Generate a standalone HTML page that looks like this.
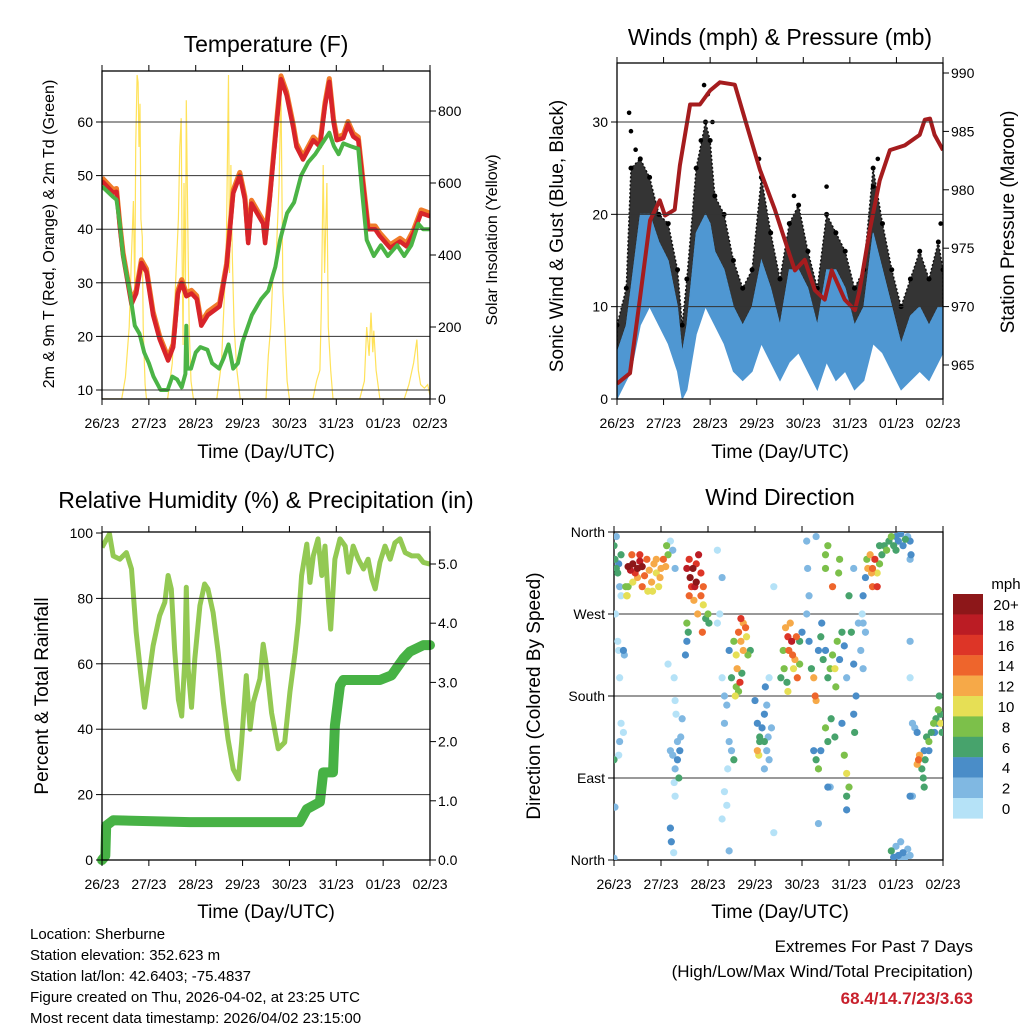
<!DOCTYPE html>
<html><head><meta charset="utf-8">
<style>
html,body{margin:0;padding:0;background:#fff;}
svg{display:block;font-family:"Liberation Sans",sans-serif;}
</style></head>
<body>
<svg id="s" width="1024" height="1024" viewBox="0 0 1024 1024" xmlns="http://www.w3.org/2000/svg">
<g id="bg"></g>
<text x="266" y="52" font-size="23" text-anchor="middle">Temperature (F)</text>
<text x="780" y="45" font-size="23" text-anchor="middle">Winds (mph) &amp; Pressure (mb)</text>
<text x="266" y="508" font-size="23" text-anchor="middle">Relative Humidity (%) &amp; Precipitation (in)</text>
<text x="780" y="505" font-size="23" text-anchor="middle">Wind Direction</text>
<text x="266" y="458" font-size="19" text-anchor="middle">Time (Day/UTC)</text>
<text x="780" y="458" font-size="19" text-anchor="middle">Time (Day/UTC)</text>
<text x="266" y="918" font-size="19" text-anchor="middle">Time (Day/UTC)</text>
<text x="780" y="918" font-size="19" text-anchor="middle">Time (Day/UTC)</text>
<text transform="translate(54,234) rotate(-90)" font-size="16" text-anchor="middle">2m &amp; 9m T (Red, Orange) &amp; 2m Td (Green)</text>
<text transform="translate(497,240) rotate(-90)" font-size="16" text-anchor="middle">Solar Insolation (Yellow)</text>
<text transform="translate(563,236) rotate(-90)" font-size="19" text-anchor="middle">Sonic Wind &amp; Gust (Blue, Black)</text>
<text transform="translate(1014,222) rotate(-90)" font-size="19" text-anchor="middle">Station Pressure (Maroon)</text>
<text transform="translate(48,696) rotate(-90)" font-size="19" text-anchor="middle">Percent &amp; Total Rainfall</text>
<text transform="translate(540,696) rotate(-90)" font-size="19" text-anchor="middle">Direction (Colored By Speed)</text>
<g font-size="15">
<text x="30" y="939">Location: Sherburne</text>
<text x="30" y="960">Station elevation: 352.623 m</text>
<text x="30" y="981">Station lat/lon: 42.6403; -75.4837</text>
<text x="30" y="1002">Figure created on Thu, 2026-04-02, at 23:25 UTC</text>
<text x="30" y="1023">Most recent data timestamp: 2026/04/02 23:15:00</text>
</g>
<g font-size="17" text-anchor="end">
<text x="973" y="952">Extremes For Past 7 Days</text>
<text x="973" y="977">(High/Low/Max Wind/Total Precipitation)</text>
<text x="973" y="1004" fill="#c8202c" font-weight="bold">68.4/14.7/23/3.63</text>
</g>
<g id="plots"></g>
</svg>
<script>
// ---------- DATA ----------
const dayLabels=["26/23","27/23","28/23","29/23","30/23","31/23","01/23","02/23"];
const tempT=[0,0.24,0.31,0.38,0.45,0.63,0.73,0.84,0.95,1.09,1.23,1.41,1.52,1.62,1.70,1.80,1.91,2.02,2.12,2.26,2.51,2.66,2.80,2.94,3.05,3.12,3.19,3.44,3.48,3.58,3.72,3.82,3.94,4.08,4.15,4.29,4.51,4.65,4.76,4.85,4.94,5.01,5.15,5.25,5.36,5.47,5.57,5.68,5.83,5.93,6.15,6.36,6.5,6.65,6.81,7.0];
const tempV=[49,46.8,47,40.5,35,26,28,33.7,32,24,19.5,15.5,18,28,30,27.5,28,27,22,24,25.6,33,46.7,50,45.5,37.4,44.8,41,37.4,45.5,59,68,65,59,55.4,53,56.6,55.4,63,67.5,60,56.6,57,59.5,57.3,56.6,48.5,40,40,38.7,36.5,37.7,36.8,39.3,43,42.4];
const dewT=[0,0.24,0.31,0.38,0.45,0.6,0.7,0.8,0.9,1.0,1.1,1.25,1.4,1.5,1.6,1.7,1.78,1.8,1.82,1.9,2.0,2.1,2.25,2.35,2.5,2.6,2.7,2.8,2.9,3.0,3.2,3.4,3.55,3.7,3.8,3.95,4.1,4.25,4.4,4.55,4.7,4.85,4.95,5.05,5.15,5.3,5.47,5.55,5.65,5.8,5.95,6.1,6.3,6.45,6.6,6.75,6.85,7.0];
const dewV=[48,46,45.5,41,35,28,22,20.5,17,15,12.5,10,10,12.5,12,10.5,13,22,14,14,17,18,17.5,15,14,16,18.5,14,15,19,24,27,28.5,33,38,43,45,50,52.5,54,56,58,55.5,54,56,55.5,55,47,38,35,37,35,37,35,37,41,40,40];
const solarT=[0,0.42,0.5,0.58,0.63,0.67,0.70,0.72,0.75,0.77,0.79,0.81,0.83,0.86,0.88,0.92,0.95,1.4,1.5,1.58,1.63,1.66,1.69,1.71,1.73,1.75,1.78,1.8,1.83,1.86,1.9,1.95,2.45,2.55,2.6,2.65,2.7,2.72,2.75,2.78,2.82,2.88,2.95,3.5,3.55,3.6,3.65,3.72,3.78,3.82,3.86,3.9,3.95,4.0,4.5,4.58,4.65,4.68,4.72,4.75,4.8,4.83,4.88,4.93,5.5,5.6,5.65,5.7,5.74,5.78,5.8,5.85,5.93,6.45,6.55,6.65,6.72,6.75,6.8,6.88,6.95,7.0];
const solarV=[0,0,60,200,400,550,300,700,900,880,700,820,500,450,200,40,0,0,100,350,500,700,780,400,150,600,300,830,500,200,50,0,0,100,250,400,900,350,650,400,200,80,0,0,120,200,350,400,600,850,300,200,50,0,0,50,80,250,650,350,600,200,80,0,0,50,200,120,240,130,190,80,0,0,40,100,165,80,40,30,40,10];
const presT=[0,0.28,0.49,0.71,0.92,1.03,1.24,1.35,1.57,1.78,2.0,2.21,2.53,2.75,3.07,3.39,3.71,3.82,4.03,4.25,4.46,4.61,4.89,5.11,5.21,5.43,5.64,5.86,6.18,6.5,6.61,6.72,6.82,7.0];
const presV=[963.4,964.3,970.6,977.4,979.1,977.8,978.3,982.1,987.3,987.3,988.5,989.2,989,986,981.7,978.3,974.4,973.1,974,971.4,970.6,973.1,970.6,969.7,971.4,976.6,980.8,983.4,983.8,984.7,986,986.1,984.7,983.4];
const windT=[0,0.2,0.3,0.5,0.7,0.9,1.1,1.3,1.4,1.5,1.7,1.9,2.0,2.1,2.3,2.5,2.7,2.9,3.1,3.3,3.5,3.7,3.9,4.1,4.3,4.5,4.7,4.9,5.1,5.3,5.5,5.7,5.9,6.1,6.3,6.5,6.7,6.9,7.0];
const windHi=[5,8,12,20,20,17,15,10,5,8,18,20,19,16,14,10,8,10,15,12,8,14,14,12,8,14,14,12,8,10,18,14,10,6,9,10,8,10,10];
const windLo=[0,2,3,8,10,8,6,3,0,1,7,10,9,8,6,3,2,3,6,4,2,4,5,3,1,4,2,3,1,2,6,5,3,1,2,3,2,4,5];
const gustHi=[8,12,25,26,24,20,19,14,8,13,25,30,28,22,20,15,12,14,24,18,13,19,21,16,12,20,18,16,12,14,25,19,14,10,13,16,13,17,14];
const gustSpikeT=[0.26,0.3,0.4,1.8,1.87,1.95,2.05,3.05,3.1,3.8,4.5,5.5,5.6,6.95];
const gustSpikeV=[31,29,27,28,34,33,30,26,24,22,23,23,26,19];
const rhT=[0,0.16,0.24,0.38,0.52,0.63,0.73,0.84,0.91,0.98,1.09,1.23,1.34,1.41,1.48,1.55,1.63,1.70,1.77,1.80,1.84,1.91,1.98,2.09,2.19,2.26,2.37,2.48,2.59,2.69,2.80,2.91,2.98,3.08,3.16,3.23,3.37,3.44,3.51,3.62,3.76,3.90,4.01,4.12,4.19,4.26,4.37,4.44,4.51,4.61,4.69,4.76,4.83,4.88,4.97,5.08,5.19,5.26,5.36,5.47,5.58,5.68,5.76,5.83,5.93,6.04,6.15,6.25,6.36,6.47,6.61,6.75,6.86,7.0];
const rhV=[95.6,99.7,93,92,94,89,69.6,55,46.7,54,65.5,74.7,78.8,87,82.9,64.5,49,44,61.5,83.4,58.4,46.7,61.5,77.8,84.4,82.9,75.7,63.5,48.2,37,27.8,24.8,36,56.4,40,48.2,55.4,66,59.4,45,34,36,51.3,63.5,72.7,87,96.6,84.9,93,98.2,87,96,79.8,70.6,92,98.2,96,88,96,92,89,92,86,82.9,91,96,92,97,98.2,94,93,93,91,90.5];
const precT=[0,0.07,0.09,0.24,1.87,4.22,4.37,4.65,4.72,4.93,4.97,5.08,5.15,5.93,6.18,6.43,6.57,6.86,7.0];
const precV=[0,0.07,0.58,0.67,0.64,0.64,0.86,0.98,1.48,1.48,2.27,2.95,3.04,3.04,3.12,3.4,3.52,3.63,3.63];
const dirDay=[0,0.02,0.05,0.08,0.1,0.12,0.15,0.05,0.03,0.08,0.1,0.12,0.2,0.22,0.15,0.25,0.27,0,0.02,0.1,0.15,0.2,0.12,0,
0.3,0.35,0.4,0.45,0.5,0.55,0.6,0.65,0.7,0.75,0.8,0.85,0.9,0.95,1.0,1.05,1.1,1.15,0.4,0.5,0.6,0.72,0.82,0.38,0.55,0.9,0.98,1.12,0.3,0.28,
1.55,1.6,1.62,1.68,1.72,1.75,1.8,1.85,1.9,1.6,1.7,1.78,1.85,1.9,1.95,2.0,2.02,1.88,1.65,1.75,1.55,1.55,1.52,1.58,
1.2,1.25,1.3,1.15,1.28,1.3,1.32,1.2,1.25,1.3,1.35,1.4,1.38,1.28,1.3,1.2,1.22,1.27,1.45,1.42,1.35,
2.55,2.6,2.62,2.65,2.7,2.75,2.8,2.82,2.85,2.68,2.72,2.6,2.58,2.65,2.7,2.75,2.9,2.5,2.45,2.4,2.35,2.3,2.2,2.25,2.35,2.45,2.5,2.55,2.42,2.35,2.4,2.3,2.45,2.2,2.3,
3.0,3.05,3.1,3.15,3.2,3.25,3.05,3.08,3.1,3.2,3.25,3.3,3.28,3.35,3.22,3.3,3.2,3.4,3.4,
3.65,3.7,3.72,3.78,3.8,3.85,3.88,3.75,3.82,3.9,3.95,3.6,3.62,3.68,3.55,3.7,3.95,4.0,
4.1,4.12,4.15,4.1,4.15,4.2,4.25,4.28,4.3,4.35,4.4,4.45,4.42,4.5,4.55,4.6,4.65,4.7,4.72,4.75,4.8,4.85,4.9,4.95,4.25,4.3,4.35,4.4,4.5,4.55,4.62,4.7,4.85,4.9,4.95,5.0,4.55,4.6,4.35,4.95,4.95,4.5,4.5,4.55,4.65,4.78,4.8,4.3,5.0,5.05,5.1,5.15,5.1,5.12,
5.3,5.3,5.35,5.28,5.35,5.38,5.4,5.45,5.5,5.55,5.6,5.65,5.7,5.75,5.8,5.5,5.48,5.6,5.65,5.1,5.2,5.25,5.3,
5.85,5.9,5.95,6.0,6.05,6.1,6.15,6.2,6.25,6.3,6.32,6.0,5.9,6.0,6.05,6.1,6.15,6.2,6.25,6.3,5.95,6.1,6.3,6.3,6.3,6.35,6.3,6.35,
6.45,6.48,6.5,6.55,6.58,6.6,6.65,6.7,6.75,6.8,6.85,6.9,6.95,6.98,6.82,6.88,6.7,6.62,6.6,6.4,6.45,6.92,6.95];
const dirDeg=[345,330,320,315,325,300,290,355,270,240,230,200,230,225,335,300,290,110,58,115,150,140,130,2,
322,318,325,315,320,328,322,312,330,318,305,325,315,300,320,330,322,335,305,310,300,295,295,335,335,330,310,345,300,290,
320,330,310,320,300,325,335,315,300,290,285,270,290,280,265,270,260,250,300,305,260,240,225,250,
350,340,320,215,200,175,160,120,115,100,110,120,90,85,70,35,20,8,155,135,130,
240,225,210,250,240,230,255,245,225,195,205,190,180,185,265,260,230,200,230,170,180,200,260,270,150,130,120,110,100,75,60,45,10,340,310,
175,150,135,145,160,170,120,115,130,130,120,110,135,145,190,200,100,30,300,
255,245,230,240,225,220,245,260,210,200,215,230,210,195,200,185,240,250,
350,320,290,270,240,210,200,180,175,230,245,220,260,230,200,210,225,210,190,240,220,250,235,200,120,110,100,120,145,130,155,135,150,115,95,80,80,80,40,55,70,335,320,345,300,315,330,355,290,250,215,180,160,140,
290,260,250,270,310,330,320,335,320,330,315,325,335,345,340,300,315,300,345,320,260,230,210,
350,355,345,355,350,358,345,352,355,350,335,340,10,15,5,20,8,3,12,5,3,2,240,200,330,150,70,70,
105,110,115,100,90,120,135,130,140,150,155,165,160,140,140,150,120,110,80,145,140,180,150];
const dirSpd=[6,7,6,7,4,2,1,3,1,0,1,0,4,3,6,8,10,6,2,1,1,1,2,3,
20,18,20,16,20,18,20,14,14,12,12,12,10,10,12,14,12,8,10,12,14,10,10,14,16,12,12,8,8,10,
18,16,20,20,18,16,18,16,14,14,12,12,14,10,6,8,6,14,16,20,8,4,4,6,
0,2,2,0,0,1,1,2,3,2,4,4,6,1,0,4,4,1,2,2,3,
8,10,12,14,12,12,14,10,8,16,6,8,10,8,16,12,6,6,4,2,2,0,0,1,3,2,3,6,1,1,0,0,2,0,3,
4,4,6,4,4,2,12,10,6,6,2,2,2,3,4,0,2,0,0,
12,16,14,18,14,12,14,12,10,14,8,8,8,6,6,10,6,4,
2,2,2,2,4,6,12,14,12,4,6,6,4,4,6,8,8,10,8,8,4,6,4,2,4,6,8,4,8,6,6,6,4,8,10,8,4,2,2,4,6,8,8,8,14,8,8,2,6,6,4,4,4,6,
4,2,2,0,4,8,12,12,14,16,10,8,6,6,8,14,12,16,6,2,2,2,2,
6,8,6,4,4,4,4,6,2,4,4,6,6,2,4,2,4,2,2,2,4,2,2,1,2,2,4,2,
12,14,12,6,6,4,6,8,6,8,6,8,6,6,4,4,4,6,6,2,4,6,10];
const spdLabels=["20+","18","16","14","12","10","8","6","4","2","0"];
const spdColors=["#b5e2f7","#80b8e2","#4a8dc8","#47a36c","#7cc04a","#e6df55","#f6a948","#ee652c","#dd3527","#bb1c24","#8d1719"];

// ---------- DRAW ----------
const NS="http://www.w3.org/2000/svg";
const root=document.getElementById('plots');
function mk(tag,attrs,parent){const e=document.createElementNS(NS,tag);for(const k in attrs)e.setAttribute(k,attrs[k]);(parent||root).appendChild(e);return e;}
function lin(d0,d1,r0,r1){return v=>r0+(v-d0)*(r1-r0)/(d1-d0);}
function pathOf(ts,vs,xs,ys){return ts.map((t,i)=>(i?'L':'M')+xs(t).toFixed(1)+' '+ys(vs[i]).toFixed(1)).join(' ');}

function axes(g,P,xs,leftTicks,ys,leftLab,grid,rightTicks,ys2,rightLab){
  grid.forEach(v=>{const l=mk('line',{x1:P.x0,x2:P.x1,y1:ys(v),y2:ys(v),stroke:'#333','stroke-width':1},g);
    });
  mk('rect',{x:P.x0,y:P.y0,width:P.x1-P.x0,height:P.y1-P.y0,fill:'none',stroke:'#000','stroke-width':1.3},g);
  dayLabels.forEach((lab,i)=>{const x=xs(i);
    mk('line',{x1:x,x2:x,y1:P.y1,y2:P.y1+6,stroke:'#000'},g);
    mk('line',{x1:x,x2:x,y1:P.y0,y2:P.y0-6,stroke:'#000'},g);
    const t=mk('text',{x:x,y:P.y1+29,'font-size':14,'text-anchor':'middle'},g);t.textContent=lab;
    });
  leftTicks.forEach((v,i)=>{const y=ys(v);
    mk('line',{x1:P.x0-6,x2:P.x0,y1:y,y2:y,stroke:'#000'},g);
    const t=mk('text',{x:P.x0-9,y:y+5,'font-size':14,'text-anchor':'end'},g);t.textContent=leftLab[i];
    });
  if(rightTicks) rightTicks.forEach((v,i)=>{const y=ys2(v);
    mk('line',{x1:P.x1,x2:P.x1+6,y1:y,y2:y,stroke:'#000'},g);
    const t=mk('text',{x:P.x1+8,y:y+5,'font-size':14,'text-anchor':'start'},g);t.textContent=rightLab[i];
    });
}
function clip(id,P){const c=mk('clipPath',{id:id});mk('rect',{x:P.x0,y:P.y0,width:P.x1-P.x0,height:P.y1-P.y0},c);}

// Panel 1 Temperature
{const P={x0:102,x1:430,y0:71,y1:399};clip('c1',P);
 const xs=lin(0,7,P.x0,P.x1), ys=lin(10,60,390,122), ys2=lin(0,800,399,111);
 const g=mk('g',{});
 const d=mk('g',{'clip-path':'url(#c1)'},g);
 const s=mk('path',{d:pathOf(solarT,solarV,xs,ys2),fill:'none',stroke:'#ffe25a','stroke-width':1.2},d);
 
 const o=mk('path',{d:pathOf(tempT,tempV.map(v=>v+0.6),xs,ys),fill:'none',stroke:'#f07c2a','stroke-width':5,'stroke-linejoin':'round'},d);
 
 const r=mk('path',{d:pathOf(tempT,tempV,xs,ys),fill:'none',stroke:'#d8242a','stroke-width':4.5,'stroke-linejoin':'round'},d);
 
 const gr=mk('path',{d:pathOf(dewT,dewV,xs,ys),fill:'none',stroke:'#4bb446','stroke-width':4,'stroke-linejoin':'round'},d);
 
 axes(g,P,xs,[10,20,30,40,50,60],ys,["10","20","30","40","50","60"],[10,20,30,40,50,60],[0,200,400,600,800],ys2,["0","200","400","600","800"]);
}
// Panel 2 Winds
{const P={x0:617,x1:943,y0:63,y1:399};clip('c2',P);
 const xs=lin(0,7,P.x0,P.x1), ys=lin(0,30,399,122), ys2=lin(965,990,365,73);
 const g=mk('g',{});
 const d=mk('g',{'clip-path':'url(#c2)'},g);
 const band=(hi,lo)=>pathOf(windT,hi,xs,ys)+' '+windT.slice().reverse().map((t,i)=>'L'+xs(t).toFixed(1)+' '+ys(lo[lo.length-1-i]).toFixed(1)).join(' ')+'Z';
 const gb=mk('path',{d:band(gustHi,windHi),fill:'#111','fill-opacity':0.85,'stroke':'#111','stroke-width':1.5,'stroke-dasharray':'2 2'},d);
 
 gustSpikeT.forEach((t,i)=>{const c=mk('circle',{cx:xs(t),cy:ys(gustSpikeV[i]),r:2.3,fill:'#000'},d);
   });
 windT.forEach((t,i)=>{const c=mk('circle',{cx:xs(t),cy:ys(gustHi[i]),r:2.5,fill:'#000'},d);
   });
 const wb=mk('path',{d:band(windHi,windLo),fill:'#4f97d2',stroke:'#4f97d2','stroke-width':1},d);
 
 const p=mk('path',{d:pathOf(presT,presV,xs,ys2),fill:'none',stroke:'#a51c1e','stroke-width':4,'stroke-linejoin':'round'},d);
 
 axes(g,P,xs,[0,10,20,30],ys,["0","10","20","30"],[10,20,30],[965,970,975,980,985,990],ys2,["965","970","975","980","985","990"]);
}
// Panel 3 RH
{const P={x0:102,x1:430,y0:532,y1:860};clip('c3',P);
 const xs=lin(0,7,P.x0,P.x1), ys=lin(0,100,860,533), ys2=lin(0,5,860,564);
 const g=mk('g',{});
 const d=mk('g',{},g);
 const rh=mk('path',{d:pathOf(rhT,rhV,xs,ys),fill:'none',stroke:'#93c953','stroke-width':5,'stroke-linejoin':'round','clip-path':'url(#c3)'},d);
 
 const pr=mk('path',{d:pathOf(precT,precV,xs,ys2),fill:'none',stroke:'#47b245','stroke-width':10,'stroke-linejoin':'round','stroke-linecap':'round'},d);
 
 axes(g,P,xs,[0,20,40,60,80,100],ys,["0","20","40","60","80","100"],[20,40,60,80],[0,1,2,3,4,5],ys2,["0.0","1.0","2.0","3.0","4.0","5.0"]);
}
// Panel 4 Wind direction
{const P={x0:614,x1:943,y0:532,y1:860};clip('c4',P);
 const xs=lin(0,7,P.x0,P.x1), ys=lin(0,360,860,532);
 const g=mk('g',{});
 axes(g,P,xs,[360,270,180,90,0],ys,["North","West","South","East","North"],[270,180,90],null);
 const d=mk('g',{'clip-path':'url(#c4)'},g);
 const order=dirDay.map((_,i)=>i).sort((a,b)=>dirSpd[a]-dirSpd[b]);
 order.forEach(i=>{const b=Math.min(10,Math.floor(dirSpd[i]/2));
   const c=mk('circle',{cx:xs(dirDay[i]),cy:ys(dirDeg[i]),r:3.6,fill:spdColors[b]},d);
   });
 const lg=mk('g',{});
 const t0=mk('text',{x:1006,y:589,'font-size':15,'text-anchor':'middle'},lg);t0.textContent='mph';
 spdLabels.forEach((lab,i)=>{const y=594+i*20.4;
   const r=mk('rect',{x:953,y:y,width:30,height:20.6,fill:spdColors[10-i]},lg);
   
   const t=mk('text',{x:1006,y:y+16,'font-size':15,'text-anchor':'middle'},lg);t.textContent=lab;
   });
}
</script>
</body></html>
